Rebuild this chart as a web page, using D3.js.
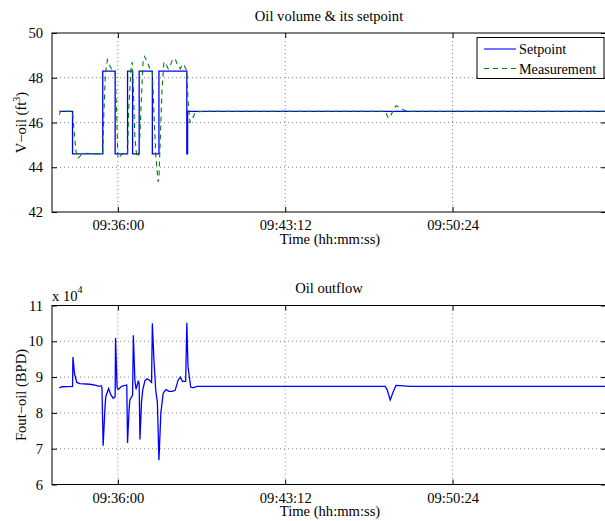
<!DOCTYPE html>
<html>
<head>
<meta charset="utf-8">
<script src="https://cdn.jsdelivr.net/npm/d3@7"></script>
<style>
  html, body { margin: 0; padding: 0; background: #fff; }
  svg { display: block; }
  text { font-family: "Liberation Serif", "Times New Roman", serif; fill: #000; }
</style>
</head>
<body>
<svg id="chart" width="605" height="521"></svg>
<script>
// Oil volume setpoint (step changes), hh:mm:ss and ft^3
const setpointTimes = ["09:33:29","09:34:03","09:35:21","09:35:53","09:36:25","09:36:38","09:36:55","09:37:29","09:37:46","09:38:58","09:39:00","09:57:00"];
const setpointValues = [46.5, 44.6, 48.3, 44.6, 48.3, 44.6, 48.3, 44.6, 48.3, 44.6, 46.5, 46.5];

// Measured oil volume, ft^3
const measTimes = ["09:33:29","09:33:32","09:34:03","09:34:07","09:34:12","09:34:17","09:34:25","09:34:35","09:35:21","09:35:24","09:35:28","09:35:33","09:35:40","09:35:45","09:35:53","09:35:57","09:36:00","09:36:06","09:36:11","09:36:25","09:36:28","09:36:34","09:36:37","09:36:40","09:36:44","09:36:49","09:36:52","09:36:55","09:37:00","09:37:05","09:37:09","09:37:16","09:37:23","09:37:29","09:37:33","09:37:38","09:37:44","09:37:46","09:37:50","09:37:54","09:37:59","09:38:04","09:38:10","09:38:15","09:38:21","09:38:28","09:38:33","09:38:41","09:38:46","09:38:51","09:38:58","09:39:01","09:39:06","09:39:11","09:39:17","09:39:24","09:39:45","09:47:30","09:47:34","09:47:38","09:47:43","09:47:51","09:47:58","09:48:03","09:48:14","09:48:29","09:57:00"];
const measValues = [46.35, 46.5, 46.5, 45.6, 44.7, 44.4, 44.55, 44.62, 44.6, 46.5, 48.2, 48.8, 48.5, 48.35, 48.3, 46.4, 44.4, 44.5, 44.6, 44.6, 46.6, 48.4, 48.7, 47.5, 45.3, 44.45, 44.55, 44.6, 46.8, 48.7, 48.95, 48.7, 48.4, 48.3, 46.5, 44.5, 43.35, 43.5, 45.5, 47.5, 48.7, 48.6, 48.4, 48.55, 48.8, 48.85, 48.6, 48.4, 48.6, 48.55, 48.3, 47.0, 46.0, 46.1, 46.35, 46.48, 46.5, 46.5, 46.35, 46.2, 46.25, 46.55, 46.75, 46.72, 46.58, 46.5, 46.5];

// Oil outflow, BPD
const flowTimes = ["09:33:29","09:33:36","09:34:03","09:34:04","09:34:08","09:34:14","09:34:22","09:34:48","09:35:04","09:35:11","09:35:17","09:35:19","09:35:22","09:35:27","09:35:29","09:35:36","09:35:42","09:35:48","09:35:53","09:35:54","09:35:58","09:36:01","09:36:11","09:36:23","09:36:25","09:36:29","09:36:31","09:36:38","09:36:40","09:36:44","09:36:47","09:36:53","09:36:55","09:36:57","09:37:01","09:37:04","09:37:10","09:37:15","09:37:21","09:37:27","09:37:29","09:37:33","09:37:38","09:37:42","09:37:46","09:37:51","09:37:57","09:38:04","09:38:12","09:38:20","09:38:28","09:38:35","09:38:41","09:38:47","09:38:55","09:38:58","09:39:01","09:39:08","09:39:14","09:39:24","09:47:30","09:47:35","09:47:43","09:47:51","09:47:58","09:48:09","09:48:34","09:57:00"];
const flowValues = [87000, 87300, 87400, 95600, 91000, 88500, 88200, 88000, 87700, 87400, 87600, 87000, 70800, 82000, 84600, 86800, 85000, 84100, 84500, 100900, 87000, 86600, 87500, 87800, 71600, 81000, 83600, 85000, 101700, 89000, 86600, 89000, 88000, 72600, 83000, 86300, 89000, 89500, 89200, 88500, 105000, 95000, 86000, 83000, 66800, 80000, 85500, 86500, 86000, 86000, 86300, 89000, 90000, 88800, 88800, 105200, 93000, 87200, 87000, 87400, 87400, 86500, 83600, 86000, 87700, 87600, 87400, 87400];

const timeTicks = ["09:36:00", "09:43:12", "09:50:24"];
const volumeTicks = [42, 44, 46, 48, 50];
const flowTicks = [60000, 70000, 80000, 90000, 100000, 110000];

const parseTime = d3.timeParse("%H:%M:%S");
const fmtTime = d3.timeFormat("%H:%M:%S");

const svg = d3.select("#chart");
const left = 52, right = 606;

const x = d3.scaleTime()
  .domain([parseTime("09:33:10"), parseTime("09:57:00")])
  .range([left, right]);

const FONT = 14.6;

function drawPanel(cfg) {
  const { top, bottom, y, yTicks, yFmt, title, ylabel, clipId } = cfg;
  const g = svg.append("g");

  // dotted grid
  g.append("g").selectAll("line.gx").data(timeTicks.map(parseTime)).join("line")
    .attr("x1", d => x(d)).attr("x2", d => x(d))
    .attr("y1", top).attr("y2", bottom)
    .attr("stroke", "#666").attr("stroke-width", 0.8).attr("stroke-dasharray", "1,3");
  g.append("g").selectAll("line.gy").data(yTicks.slice(1, -1)).join("line")
    .attr("x1", left).attr("x2", right)
    .attr("y1", d => y(d)).attr("y2", d => y(d))
    .attr("stroke", "#666").attr("stroke-width", 0.8).attr("stroke-dasharray", "1,3");

  // axes (ticks inside)
  const xb = d3.axisBottom(x).tickValues(timeTicks.map(parseTime)).tickFormat(fmtTime).tickSize(-5).tickPadding(9);
  const xt = d3.axisTop(x).tickValues(timeTicks.map(parseTime)).tickFormat("").tickSize(-5);
  const yl = d3.axisLeft(y).tickValues(yTicks).tickFormat(yFmt).tickSize(-5).tickPadding(9);
  const yr = d3.axisRight(y).tickValues(yTicks).tickFormat("").tickSize(-5);

  const axes = [
    g.append("g").attr("transform", `translate(0,${bottom})`).call(xb),
    g.append("g").attr("transform", `translate(0,${top})`).call(xt),
    g.append("g").attr("transform", `translate(${left},0)`).call(yl),
    g.append("g").attr("transform", `translate(${right},0)`).call(yr)
  ];
  axes.forEach(a => {
    a.select(".domain").remove();
    a.selectAll(".tick line").attr("stroke", "#000").attr("stroke-width", 1);
    a.selectAll("text").style("font-family", "'Liberation Serif', serif").style("font-size", FONT + "px").attr("fill", "#000");
  });
  axes[0].selectAll("text").attr("dy", null).attr("y", 0).attr("transform", `translate(0,${230 - 212})`);

  // box
  g.append("rect").attr("x", left).attr("y", top).attr("width", right - left).attr("height", bottom - top)
    .attr("fill", "none").attr("stroke", "#000").attr("stroke-width", 1);

  // title and axis labels
  g.append("text").attr("x", (left + right) / 2).attr("y", top - 12.5)
    .attr("text-anchor", "middle").style("font-size", FONT + "px").text(title);
  g.append("text").attr("x", (left + right) / 2 + 1).attr("y", bottom + 31.5)
    .attr("text-anchor", "middle").style("font-size", FONT + "px").text("Time (hh:mm:ss)");
  const yl2 = g.append("text")
    .attr("transform", `translate(26,${(top + bottom) / 2}) rotate(-90)`)
    .attr("text-anchor", "middle").style("font-size", FONT + "px");
  ylabel(yl2);

  svg.append("clipPath").attr("id", clipId).append("rect")
    .attr("x", left).attr("y", top).attr("width", right - left).attr("height", bottom - top);
  return g;
}

// ---- Panel 1: oil volume ----
const y1 = d3.scaleLinear().domain([42, 50]).range([212, 33]);
const p1 = drawPanel({
  top: 33, bottom: 212, y: y1, yTicks: volumeTicks, yFmt: d3.format("d"),
  title: "Oil volume & its setpoint", clipId: "clip1",
  ylabel: t => {
    t.append("tspan").text("V\u2212oil (ft");
    t.append("tspan").attr("dy", -6).style("font-size", "10px").text("3");
    t.append("tspan").attr("dy", 6).text(")");
  }
});

const spData = setpointTimes.map((t, i) => [parseTime(t), setpointValues[i]]);
const msData = measTimes.map((t, i) => [parseTime(t), measValues[i]]);

const lineStep = d3.line().x(d => x(d[0])).y(d => y1(d[1])).curve(d3.curveStepAfter);
const line1 = d3.line().x(d => x(d[0])).y(d => y1(d[1]));

const plot1 = svg.append("g").attr("clip-path", "url(#clip1)");
plot1.append("path").datum(spData).attr("d", lineStep)
  .attr("fill", "none").attr("stroke", "#0000ff").attr("stroke-width", 1.3);
plot1.append("path").datum(msData).attr("d", line1)
  .attr("fill", "none").attr("stroke", "#008000").attr("stroke-width", 1.1)
  .attr("stroke-dasharray", "5,4");

// legend
const lg = svg.append("g");
lg.append("rect").attr("x", 477).attr("y", 37.5).attr("width", 127).attr("height", 41)
  .attr("fill", "#fff").attr("stroke", "#000").attr("stroke-width", 1);
const legendItems = [
  { label: "Setpoint", color: "#0000ff", dash: null, y: 49 },
  { label: "Measurement", color: "#008000", dash: "5,4", y: 68.5 }
];
legendItems.forEach(it => {
  lg.append("line").attr("x1", 484).attr("x2", 516).attr("y1", it.y).attr("y2", it.y)
    .attr("stroke", it.color).attr("stroke-width", 1.1)
    .attr("stroke-dasharray", it.dash);
  lg.append("text").attr("x", 519).attr("y", it.y + 5).style("font-size", "14.2px").text(it.label);
});

// ---- Panel 2: oil outflow ----
const y2 = d3.scaleLinear().domain([60000, 110000]).range([484.5, 305.5]);
drawPanel({
  top: 305.5, bottom: 484.5, y: y2, yTicks: flowTicks, yFmt: d => d3.format("d")(d / 1e4),
  title: "Oil outflow", clipId: "clip2",
  ylabel: t => t.text("Fout\u2212oil (BPD)")
});

const flData = flowTimes.map((t, i) => [parseTime(t), flowValues[i]]);
const line2 = d3.line().x(d => x(d[0])).y(d => y2(d[1]));
svg.append("g").attr("clip-path", "url(#clip2)")
  .append("path").datum(flData).attr("d", line2)
  .attr("fill", "none").attr("stroke", "#0000ff").attr("stroke-width", 1.3);

// exponent label
const ex = svg.append("text").attr("x", 52).attr("y", 300.5).style("font-size", FONT + "px");
ex.append("tspan").text("x 10");
ex.append("tspan").attr("dy", -8).style("font-size", "10px").text("4");
</script>
</body>
</html>
